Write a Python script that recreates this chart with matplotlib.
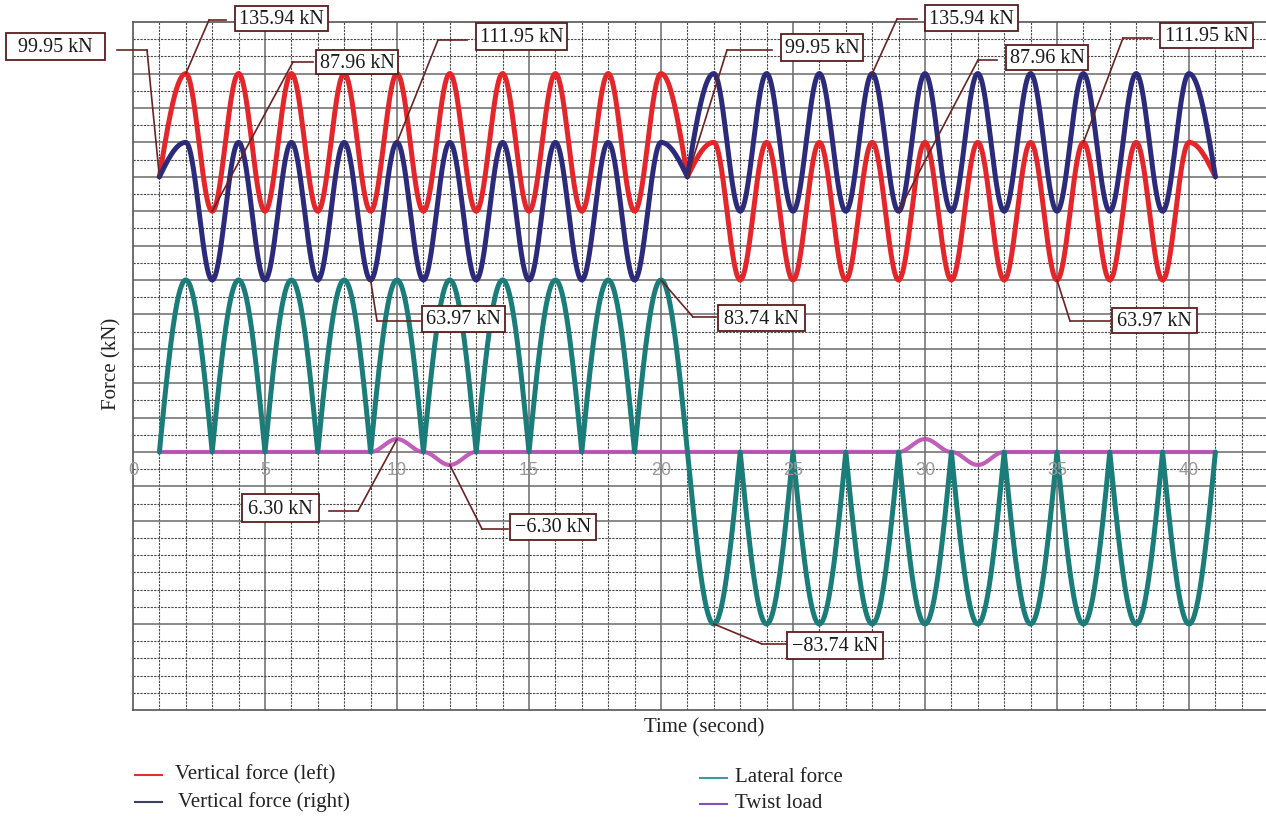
import numpy as np
import matplotlib
matplotlib.use("Agg")
import matplotlib.pyplot as plt
from matplotlib.lines import Line2D
from matplotlib.patches import Rectangle, ConnectionPatch

# ---------------- data ----------------
time_keys = [1, 2, 3, 4, 5, 6, 7, 8, 9, 10, 11, 12, 13, 14, 15, 16, 17, 18, 19, 20, 21,
             22, 23, 24, 25, 26, 27, 28, 29, 30, 31, 32, 33, 34, 35, 36, 37, 38, 39, 40, 41]
vertical_left = [99.95, 135.94, 87.96, 135.94, 87.96, 135.94, 87.96, 135.94, 87.96, 135.94, 87.96,
                 135.94, 87.96, 135.94, 87.96, 135.94, 87.96, 135.94, 87.96, 135.94, 99.95,
                 111.95, 63.97, 111.95, 63.97, 111.95, 63.97, 111.95, 63.97, 111.95, 63.97,
                 111.95, 63.97, 111.95, 63.97, 111.95, 63.97, 111.95, 63.97, 111.95, 99.95]
vertical_right = [99.95, 111.95, 63.97, 111.95, 63.97, 111.95, 63.97, 111.95, 63.97, 111.95, 63.97,
                  111.95, 63.97, 111.95, 63.97, 111.95, 63.97, 111.95, 63.97, 111.95, 99.95,
                  135.94, 87.96, 135.94, 87.96, 135.94, 87.96, 135.94, 87.96, 135.94, 87.96,
                  135.94, 87.96, 135.94, 87.96, 135.94, 87.96, 135.94, 87.96, 135.94, 99.95]
lateral = [0, 83.74, 0, 83.74, 0, 83.74, 0, 83.74, 0, 83.74, 0,
           83.74, 0, 83.74, 0, 83.74, 0, 83.74, 0, 83.74, 0,
           -83.74, 0, -83.74, 0, -83.74, 0, -83.74, 0, -83.74, 0,
           -83.74, 0, -83.74, 0, -83.74, 0, -83.74, 0, -83.74, 0]
twist_time = [1, 9, 10, 11, 12, 13, 29, 30, 31, 32, 33, 41]
twist = [0, 0, 6.30, 0, -6.30, 0, 0, 6.30, 0, -6.30, 0, 0]

vertical_mean = 99.95
lateral_mean = 0.0
x_tick_values = [0, 5, 10, 15, 20, 25, 30, 35, 40]
legend_labels = ["Vertical force (left)", "Vertical force (right)", "Lateral force", "Twist load"]

# annotations: label, axis ('v' vertical-force axis / 'm' main axis), data x, data y,
# box (left, top, right, bottom) px, elbow (x, y) px, end of horizontal leader x px
annotations = [
    ("99.95 kN", 'v', 1, 99.95, (6, 33, 105, 60), (147, 50), 117),
    ("135.94 kN", 'v', 2, 135.94, (235, 6, 328, 31), (209, 20), 226),
    ("87.96 kN", 'v', 3, 87.96, (316, 50, 398, 74), (293, 62), 313),
    ("111.95 kN", 'v', 10, 111.95, (476, 23, 567, 50), (438, 40), 467),
    ("63.97 kN", 'v', 9, 63.97, (422, 306, 505, 332), (377, 321), 420),
    ("83.74 kN", 'm', 20, 83.74, (718, 305, 805, 331), (693, 317), 716),
    ("99.95 kN", 'v', 21, 99.95, (781, 34, 863, 61), (727, 50), 772),
    ("135.94 kN", 'v', 28, 135.94, (925, 5, 1018, 31), (897, 19), 917),
    ("87.96 kN", 'v', 29, 87.96, (1006, 45, 1088, 70), (978, 60), 997),
    ("111.95 kN", 'v', 36, 111.95, (1160, 23, 1253, 48), (1123, 38), 1152),
    ("63.97 kN", 'v', 35, 63.97, (1112, 308, 1197, 333), (1070, 321), 1110),
    ("6.30 kN", 'm', 10, 6.30, (242, 494, 319, 522), (358, 511), 329),
    ("\u22126.30 kN", 'm', 12, -6.30, (510, 514, 596, 540), (482, 529), 508),
    ("\u221283.74 kN", 'm', 22, -83.74, (787, 632, 883, 659), (762, 644), 787),
]

# ---------------- helpers ----------------
def smooth_curve(tk, vk, node_value=None, n=60):
    """Draw a smooth path through key points (extrema / crossing nodes)."""
    xs, ys = [], []
    for i in range(len(tk) - 1):
        t0, t1, v0, v1 = tk[i], tk[i + 1], vk[i], vk[i + 1]
        s = np.linspace(0, 1, n)
        start_node = node_value is not None and np.isclose(v0, node_value)
        end_node = node_value is not None and np.isclose(v1, node_value)
        if start_node and end_node:
            f = s
        elif start_node:
            f = np.sin(np.pi / 2 * s)
        elif end_node:
            f = 1 - np.cos(np.pi / 2 * s)
        else:
            f = (1 - np.cos(np.pi * s)) / 2
        xs.append(t0 + (t1 - t0) * s)
        ys.append(v0 + (v1 - v0) * f)
    return np.concatenate(xs), np.concatenate(ys)

W, H = 1266, 818
def fx(x): return x / W
def fy(y): return 1 - y / H

SERIF = "Liberation Serif"
BROWN = "#6b2222"

fig = plt.figure(figsize=(W / 100, H / 100), dpi=100)
fig.patch.set_facecolor("white")

ax = fig.add_axes([fx(133), fy(710), (1266 - 133) / W, 688 / H])
lat_step = 83.74 / 10
ax.set_xlim(0, (1266 - 133) / 26.4)
ax.set_ylim(-15 * lat_step, 25 * lat_step)

vert_step = (135.94 - 99.95) / 6
ax2 = ax.twinx()
ax2.set_ylim(99.95 - 31 * vert_step, 99.95 + 9 * vert_step)

for a in (ax, ax2):
    a.set_xticks([])
    a.set_yticks([])
    a.spines["right"].set_visible(False)
ax2.spines["left"].set_visible(False)
ax2.spines["top"].set_visible(False)
ax2.spines["bottom"].set_visible(False)
for sp in ("left", "top", "bottom"):
    ax.spines[sp].set_color("#555555")
    ax.spines[sp].set_linewidth(1.2)

# grid
solid_kw = dict(color="#6a6a6a", lw=1.1, zorder=0.5)
dash_kw = dict(color="#454545", lw=0.8, ls=(0, (2.0, 1.1)), zorder=0.5)
for xv in range(1, 43):
    ax.axvline(xv, **(solid_kw if xv % 5 == 0 else dash_kw))
solid_rows = set(range(3, 30, 2)) | {35}
for k in range(1, 40):
    yv = (25 - k) * lat_step
    ax.axhline(yv, **(solid_kw if k in solid_rows else dash_kw))

# curves
tx, ty = smooth_curve(twist_time, twist)
ax.plot(tx, ty, color="#b84db3", lw=3.0, alpha=0.9, zorder=3, solid_capstyle="round")
lx, ly = smooth_curve(time_keys, lateral, node_value=lateral_mean)
ax.plot(lx, ly, color="#1b7d79", lw=3.6, zorder=4, solid_capstyle="round")
rx, ry = smooth_curve(time_keys, vertical_left, node_value=vertical_mean)
ax2.plot(rx, ry, color="#e4262b", lw=3.6, zorder=4, solid_capstyle="round")
bx, by = smooth_curve(time_keys, vertical_right, node_value=vertical_mean)
ax2.plot(bx, by, color="#2c2a7a", lw=3.6, zorder=5, solid_capstyle="round")

# x tick labels on the zero line
for xv in x_tick_values:
    ax.text(xv, -8.8, str(xv), ha="center", va="center", fontsize=13,
            color="#9a9a9a", family="Liberation Sans", zorder=6)

# axis labels
fig.text(fx(112), fy(364), "Force (kN)", rotation=90, ha="center", va="center",
         fontsize=15, family=SERIF, color="#222222")
fig.text(fx(704), fy(728), "Time (second)", ha="center", va="center",
         fontsize=15, family=SERIF, color="#222222")

# annotations
for label, which, dx, dy, box, elbow, hend in annotations:
    a = ax2 if which == 'v' else ax
    con = ConnectionPatch(xyA=(fx(elbow[0]), fy(elbow[1])), coordsA="figure fraction",
                          xyB=(dx, dy), coordsB=a.transData, color=BROWN, lw=1.2, zorder=10)
    fig.add_artist(con)
    fig.add_artist(Line2D([fx(elbow[0]), fx(hend)], [fy(elbow[1]), fy(elbow[1])],
                          transform=fig.transFigure, color=BROWN, lw=1.2, zorder=10))
    l, t, r, b = box
    fig.add_artist(Rectangle((fx(l), fy(b)), (r - l) / W, (b - t) / H, transform=fig.transFigure,
                             facecolor="white", edgecolor="#5a1c1c", lw=1.3, zorder=11))
    fig.text(fx((l + r) / 2), fy((t + b) / 2 + 1), label, ha="center", va="center",
             fontsize=14.5, family=SERIF, color="#1a1a1a", zorder=12)

# legend (manual)
legend_colors = ["#e0302a", "#3a3f66", "#3a9c9c", "#8050c0"]
legend_pos = [(135, 162, 175, 775), (135, 162, 178, 802), (700, 727, 735, 778), (700, 727, 735, 804)]
for lab, col, (x0, x1, xt, yy) in zip(legend_labels, legend_colors, legend_pos):
    fig.add_artist(Line2D([fx(x0), fx(x1)], [fy(yy), fy(yy)], transform=fig.transFigure,
                          color=col, lw=1.5))
    fig.text(fx(xt), fy(yy), lab, ha="left", va="center", fontsize=15, family=SERIF,
             color="#222222")

fig.savefig("out.png", dpi=100, facecolor="white")
